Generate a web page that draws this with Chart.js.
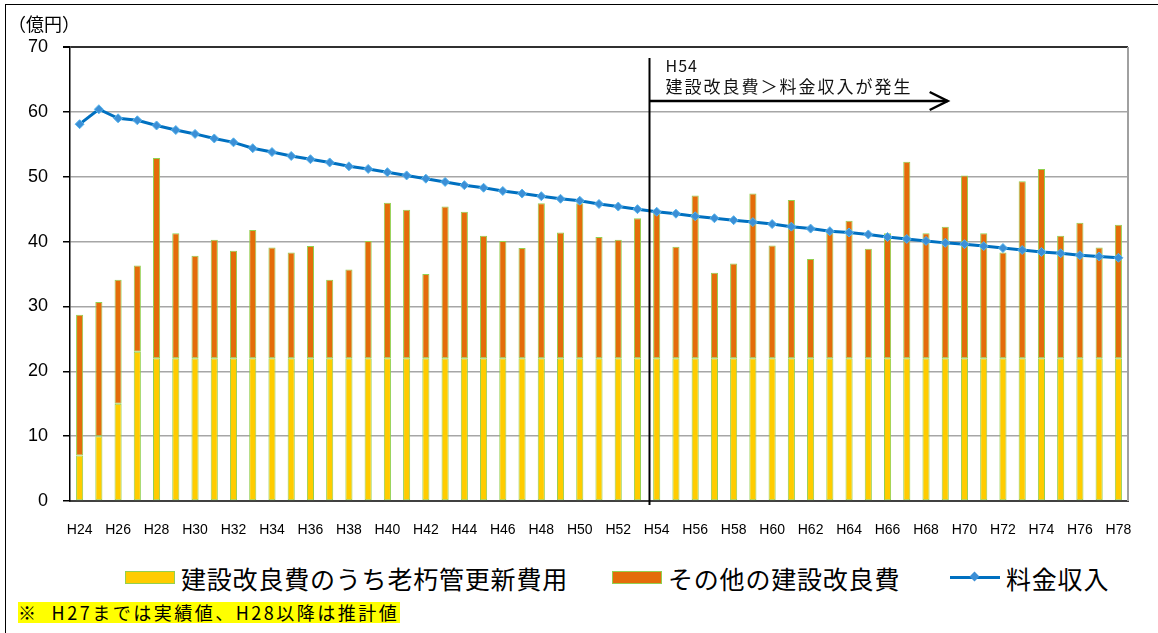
<!DOCTYPE html>
<html lang="ja">
<head>
<meta charset="utf-8">
<script src="https://cdn.jsdelivr.net/npm/chart.js@4.4.1/dist/chart.umd.min.js"></script>
<style>
  body { margin: 0; background: #fff; }
  #wrap { position: relative; width: 1158px; height: 633px; overflow: hidden; font-family: "Noto Sans CJK JP", sans-serif; }
  #frame { position: absolute; left: 5px; top: 4px; width: 1200px; height: 700px; border-left: 1.5px solid #000; border-top: 1.5px solid #000; }
  #chart { position: absolute; left: 0; top: 0; }
  #unit { position: absolute; left: 8px; top: 12px; font-size: 18px; line-height: 22px; color: #000; }
  .leg { position: absolute; top: 563px; height: 30px; line-height: 30px; font-size: 25px; letter-spacing: 0.8px; color: #000; white-space: nowrap; }
  .box { position: absolute; top: 571px; width: 48px; height: 11px; border: 1px solid #92D050; }
  #lineleg { position: absolute; left: 950px; top: 576px; width: 50px; height: 3px; background: #0070C0; }
  #lineleg i { position: absolute; left: 21px; top: -3px; width: 7px; height: 7px; background: #3C8FD6; transform: rotate(45deg); }
  #note { position: absolute; left: 18px; top: 602px; width: 382px; height: 21px; background: #FFFF00; font-size: 18px; line-height: 21px; letter-spacing: 2.5px; color: #000; white-space: nowrap; }
</style>
</head>
<body>
<div id="wrap">
  <div id="frame"></div>
  <canvas id="chart" width="1158" height="545"></canvas>
  <div id="unit">（億円）</div>
  <div class="box" style="left:125px;background:#FFCC00"></div>
  <div class="leg" style="left:181px">建設改良費のうち老朽管更新費用</div>
  <div class="box" style="left:612px;background:#E46C0A"></div>
  <div class="leg" style="left:668px">その他の建設改良費</div>
  <div id="lineleg"><i></i></div>
  <div class="leg" style="left:1006px">料金収入</div>
  <div id="note">※&nbsp;&nbsp;H27までは実績値、H28以降は推計値</div>
</div>
<script>
  // years
  var years = ['H24','H25','H26','H27','H28','H29','H30','H31','H32','H33',
    'H34','H35','H36','H37','H38','H39','H40','H41','H42','H43',
    'H44','H45','H46','H47','H48','H49','H50','H51','H52','H53',
    'H54','H55','H56','H57','H58','H59','H60','H61','H62','H63',
    'H64','H65','H66','H67','H68','H69','H70','H71','H72','H73',
    'H74','H75','H76','H77','H78'];

  // 建設改良費のうち老朽管更新費用
  var renewalCost = [7,10,15,23,22,22,22,22,22,22,
    22,22,22,22,22,22,22,22,22,22,
    22,22,22,22,22,22,22,22,22,22,
    22,22,22,22,22,22,22,22,22,22,
    22,22,22,22,22,22,22,22,22,22,
    22,22,22,22,22];

  // その他の建設改良費
  var otherCost = [21.7,20.7,19.1,13.3,30.9,19.3,15.8,18.3,16.6,19.8,
    17.1,16.3,17.3,12.1,13.7,18.1,24.0,22.9,13.0,23.4,
    22.6,18.9,18.1,17.0,23.9,19.4,23.9,18.7,18.3,21.6,
    22.4,17.2,25.1,13.2,14.6,25.4,17.4,24.4,15.3,19.4,
    21.2,16.9,19.3,30.3,19.3,20.3,28.2,19.3,16.3,27.3,
    29.2,18.9,20.9,17.1,20.6];

  // 料金収入
  var revenue = [58.1,60.4,59.0,58.7,57.9,57.2,56.6,55.9,55.3,54.4,
    53.8,53.2,52.7,52.2,51.6,51.2,50.7,50.2,49.7,49.2,
    48.7,48.3,47.8,47.4,47.0,46.6,46.3,45.8,45.4,45.0,
    44.6,44.3,43.9,43.6,43.3,43.0,42.7,42.3,42.0,41.6,
    41.4,41.1,40.7,40.4,40.1,39.8,39.6,39.3,39.0,38.7,
    38.4,38.2,37.9,37.7,37.5];

  var yTicks = [0,10,20,30,40,50,60,70];
  var markYear = 'H54';
  var markText = ['H54', '建設改良費＞料金収入が発生'];

  // vertical line + arrow at H54
  var markerPlugin = {
    id: 'marker',
    afterDatasetsDraw: function(chart) {
      var ctx = chart.ctx;
      var area = chart.chartArea;
      var xs = chart.scales.x;
      var w = xs.getPixelForValue(1) - xs.getPixelForValue(0);
      var lx = Math.round(xs.getPixelForValue(years.indexOf(markYear)) - 0.4 * w) + 0.5;
      var ay = area.top + 54;
      var ax2 = lx + 15.5 * w;

      ctx.save();
      // right border of plot
      ctx.strokeStyle = '#a0a0a0';
      ctx.lineWidth = 2;
      ctx.beginPath();
      ctx.moveTo(area.right, area.top);
      ctx.lineTo(area.right, area.bottom);
      ctx.stroke();

      ctx.strokeStyle = '#000';
      ctx.lineWidth = 2;
      ctx.beginPath();
      ctx.moveTo(lx, area.top + 11);
      ctx.lineTo(lx, area.bottom + 4);
      ctx.stroke();

      ctx.lineWidth = 2.5;
      ctx.beginPath();
      ctx.moveTo(lx, ay);
      ctx.lineTo(ax2, ay);
      ctx.stroke();
      ctx.beginPath();
      ctx.moveTo(ax2 - 18, ay - 9);
      ctx.lineTo(ax2, ay);
      ctx.lineTo(ax2 - 18, ay + 9);
      ctx.stroke();

      ctx.fillStyle = '#111';
      ctx.font = '16px "Noto Sans CJK JP"';
      ctx.textBaseline = 'alphabetic';
      ctx.letterSpacing = '1px';
      ctx.fillText(markText[0], lx + 16, area.top + 25);
      ctx.font = '17px "Noto Sans CJK JP"';
      ctx.letterSpacing = '2px';
      ctx.fillText(markText[1], lx + 16, area.top + 46);
      ctx.restore();
    }
  };

  new Chart(document.getElementById('chart'), {
    type: 'bar',
    data: {
      labels: years,
      datasets: [
        {
          type: 'line',
          label: '料金収入',
          data: revenue,
          stack: 'line',
          order: 0,
          borderColor: '#0070C0',
          borderWidth: 3,
          tension: 0,
          pointStyle: 'rectRot',
          pointRadius: 4.5,
          pointBackgroundColor: '#3C8FD6',
          pointBorderColor: '#55B4EC',
          pointBorderWidth: 1
        },
        {
          label: '建設改良費のうち老朽管更新費用',
          data: renewalCost,
          stack: 'cost',
          order: 1,
          backgroundColor: '#FFCC00',
          borderColor: '#92D050',
          borderWidth: 1,
          borderSkipped: false,
          categoryPercentage: 1,
          barPercentage: 0.37
        },
        {
          label: 'その他の建設改良費',
          data: otherCost,
          stack: 'cost',
          order: 2,
          backgroundColor: '#E46C0A',
          borderColor: '#92D050',
          borderWidth: 1,
          borderSkipped: false,
          categoryPercentage: 1,
          barPercentage: 0.37
        }
      ]
    },
    options: {
      responsive: false,
      animation: false,
      layout: { padding: { left: 20, right: 30, top: 47, bottom: 0 } },
      plugins: {
        legend: { display: false },
        tooltip: { enabled: false }
      },
      scales: {
        x: {
          stacked: true,
          grid: { display: false },
          border: { display: true, color: '#404040', width: 2 },
          ticks: {
            autoSkip: false,
            maxRotation: 0,
            padding: 13,
            color: '#000',
            font: { family: '"Liberation Sans", Arial', size: 14 },
            callback: function(v, i) { return i % 2 === 0 ? years[i] : ''; }
          },
          afterFit: function(s) { s.height = 44; }
        },
        y: {
          stacked: true,
          min: yTicks[0],
          max: yTicks[yTicks.length - 1],
          afterBuildTicks: function(s) { s.ticks = yTicks.map(function(v) { return { value: v }; }); },
          grid: {
            color: function(c) { return c.tick && c.tick.value === 70 ? '#303030' : '#a6a6a6'; },
            lineWidth: function(c) { return c.tick && c.tick.value === 70 ? 2 : 1.5; },
            tickColor: '#000',
            tickLength: 7
          },
          border: { display: true, color: '#000', width: 1.5 },
          ticks: {
            padding: 15,
            color: '#000',
            font: { family: '"Liberation Sans", Arial', size: 18 }
          },
          afterFit: function(s) { s.width = 50; }
        }
      }
    },
    plugins: [markerPlugin]
  });
</script>
</body>
</html>
